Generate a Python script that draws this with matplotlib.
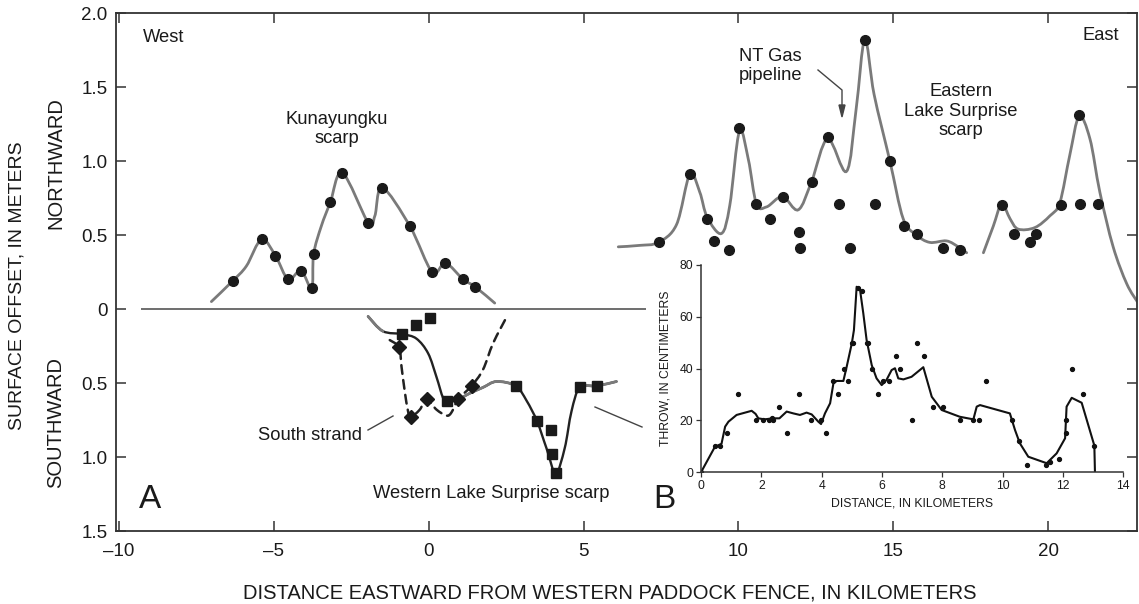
import numpy as np
import matplotlib
matplotlib.use("Agg")
import matplotlib.pyplot as plt
from matplotlib.path import Path
from matplotlib.patches import PathPatch, FancyArrow, Rectangle
from matplotlib.lines import Line2D

plt.rcParams['font.family'] = ['Liberation Sans', 'DejaVu Sans']

# ---------------------------------------------------------------- data
# Kunayungku scarp (northward offset, m) vs distance (km)
kun_x = [-6.33, -5.40, -4.95, -4.54, -4.13, -3.78, -3.72, -3.18, -2.79, -1.95,
         -1.50, -0.61, 0.11, 0.54, 1.11, 1.50]
kun_y = [0.19, 0.47, 0.36, 0.20, 0.26, 0.14, 0.37, 0.72, 0.92, 0.58,
         0.82, 0.56, 0.25, 0.31, 0.20, 0.15]
kun_curve_x = [-7.02, -6.33, -5.89, -5.40, -4.95, -4.54, -4.13, -3.78, -3.72, -3.47,
               -3.18, -2.79, -1.95, -1.74, -1.50, -0.61, 0.11, 0.54, 1.11, 1.50, 2.13]
kun_curve_y = [0.05, 0.19, 0.29, 0.47, 0.36, 0.20, 0.26, 0.14, 0.37, 0.56,
               0.72, 0.92, 0.58, 0.63, 0.82, 0.56, 0.25, 0.31, 0.20, 0.15, 0.04]

# Eastern Lake Surprise scarp (northward offset, m)
east_x = [7.44, 8.43, 9.00, 9.22, 9.69, 10.03, 10.56, 11.01, 11.44, 11.96, 11.98,
          12.36, 12.88, 13.24, 13.60, 14.08, 14.41, 14.89, 15.36, 15.76, 16.60, 17.14,
          18.52, 18.91, 19.41, 19.61, 20.41, 21.01, 21.03, 21.60]
east_y = [0.45, 0.91, 0.61, 0.46, 0.40, 1.22, 0.71, 0.61, 0.76, 0.52, 0.41,
          0.86, 1.16, 0.71, 0.41, 1.82, 0.71, 1.00, 0.56, 0.51, 0.41, 0.40,
          0.70, 0.51, 0.45, 0.51, 0.70, 1.31, 0.71, 0.71]
east_curve1_x = [6.12, 6.82, 7.41, 8.00, 8.43, 8.75, 8.99, 9.45, 9.72, 10.03, 10.32,
                 10.58, 10.91, 11.42, 11.93, 12.36, 12.88, 13.49, 13.80, 14.08, 14.38,
                 14.89, 15.32, 15.75, 16.18, 16.72, 17.10, 17.37]
east_curve1_y = [0.42, 0.43, 0.45, 0.57, 0.91, 0.79, 0.62, 0.51, 0.70, 1.20, 1.01,
                 0.71, 0.69, 0.76, 0.67, 0.86, 1.15, 0.93, 1.35, 1.82, 1.45,
                 1.00, 0.61, 0.50, 0.45, 0.46, 0.42, 0.38]
east_curve2_x = [17.91, 18.23, 18.50, 18.77, 19.03, 19.57, 20.06, 20.38, 20.70, 21.00,
                 21.35, 21.67, 22.10, 22.54, 22.91]
east_curve2_y = [0.38, 0.56, 0.71, 0.61, 0.54, 0.55, 0.63, 0.72, 1.04, 1.30,
                 1.15, 0.79, 0.42, 0.17, 0.04]

# Western Lake Surprise scarp (southward offset, m)
wls_x = [-0.85, -0.40, 0.03, 0.60, 2.81, 3.50, 3.94, 3.99, 4.10, 4.88, 5.43]
wls_s = [0.17, 0.11, 0.06, 0.62, 0.52, 0.76, 0.82, 0.98, 1.11, 0.53, 0.52]
wls_curve_x = [-1.96, -1.48, -0.85, -0.40, -0.02, 0.25, 0.46, 0.60, 0.95, 1.32, 1.75,
               2.19, 2.81, 3.16, 3.50, 3.80, 4.10, 4.39, 4.61, 4.88, 5.42, 6.06]
wls_curve_s = [0.05, 0.15, 0.17, 0.20, 0.30, 0.46, 0.60, 0.62, 0.61, 0.57, 0.53,
               0.49, 0.52, 0.62, 0.76, 0.94, 1.11, 0.94, 0.69, 0.53, 0.52, 0.49]
# stretches of that profile drawn in grey
wls_grey_spans = [(-2.1, -1.45), (0.95, 2.78), (4.92, 6.2)]

# South strand (southward offset, m)
ss_x = [-0.96, -0.58, -0.07, 0.95, 1.38]
ss_s = [0.26, 0.73, 0.61, 0.61, 0.52]
ss_curve_x = [-1.26, -0.96, -0.88, -0.78, -0.67, -0.58, -0.29, -0.07, 0.25, 0.57,
              0.73, 0.95, 1.38, 1.75, 2.08, 2.55]
ss_curve_s = [0.21, 0.26, 0.39, 0.55, 0.69, 0.73, 0.68, 0.61, 0.68, 0.72,
              0.70, 0.61, 0.52, 0.41, 0.23, 0.04]

# Eastern scarp throw profile (cm) vs distance (km)
throw_x = [0.0, 0.46, 0.63, 0.87, 1.22, 1.81, 2.07, 2.25, 2.34, 2.40, 2.59, 2.84,
           3.26, 3.65, 3.98, 4.13, 4.36, 4.55, 4.75, 4.88, 4.99, 5.05, 5.19, 5.33,
           5.49, 5.55, 5.68, 5.86, 6.04, 6.23, 6.45, 6.60, 6.98, 7.15, 7.40, 7.68,
           8.01, 8.58, 9.03, 9.21, 9.45, 10.30, 10.55, 10.82, 11.43, 11.57, 11.88,
           12.09, 12.10, 12.31, 12.67, 13.04]
throw_y = [0, 10, 10, 15, 30, 20, 20, 20, 21, 20, 25, 15,
           30, 20, 20, 15, 35, 30, 40, 35, 50, 50, 71, 70,
           50, 50, 40, 30, 35, 35, 45, 40, 20, 50, 45, 25,
           25, 20, 20, 20, 35, 20, 12, 3, 3, 4, 5,
           20, 15, 40, 30, 10]
throw_curve_x = [0.0, 0.46, 0.68, 0.80, 0.91, 1.18, 1.68, 1.81, 1.90, 2.10, 2.40,
                 2.60, 2.84, 3.06, 3.28, 3.50, 3.67, 3.89, 3.98, 4.11, 4.28, 4.39,
                 4.50, 4.72, 4.83, 5.00, 5.07, 5.16, 5.27, 5.38, 5.49, 5.66, 5.82,
                 5.99, 6.15, 6.32, 6.43, 6.54, 6.71, 6.98, 7.37, 7.65, 7.98, 8.58,
                 9.03, 9.14, 9.25, 10.24, 10.41, 10.57, 10.85, 11.46, 11.79, 12.07,
                 12.12, 12.29, 12.62, 13.04, 13.06]
throw_curve_y = [0, 9.8, 11, 17.6, 19.5, 22.1, 23.7, 22.5, 20.8, 20.4, 20.8,
                 20.8, 23.4, 22.7, 22.1, 23.0, 22.3, 19.5, 18.6, 22.7, 26.6, 34.3,
                 35.2, 35.2, 40.7, 49.7, 54.8, 71.5, 70.5, 61.3, 51.0, 41.3, 36.2,
                 33.6, 35.6, 39.4, 40.1, 36.2, 35.8, 36.8, 40.5, 29.1, 24.0, 21.4,
                 20.4, 25.3, 25.9, 22.7, 16.3, 11.2, 6.0, 3.5, 7.3, 13.1,
                 25.3, 28.7, 26.8, 10.3, 0.2]

x_ticks = [-10, -5, 0, 5, 10, 15, 20]
x_tick_labels = ['\u201310', '\u20135', '0', '5', '10', '15', '20']
y_ticks = [-1.5, -1.0, -0.5, 0, 0.5, 1.0, 1.5, 2.0]
y_tick_labels = ['1.5', '1.0', '0.5', '0', '0.5', '1.0', '1.5', '2.0']
inset_x_ticks = [0, 2, 4, 6, 8, 10, 12, 14]
inset_y_ticks = [0, 20, 40, 60, 80]
zero_line_start, zero_line_end = -9.3, 7.0

# ---------------------------------------------------------------- helpers
W, H = 1139, 604
GRAY = '#7a7a7a'
INK = '#1a1a1a'
LEAD = '#444444'


def fp(x, y):
    """Pixel position (from top-left) to figure fraction."""
    return (x / W, 1 - y / H)


def smooth_path(xs, ys):
    pts = np.column_stack([xs, ys]).astype(float)
    P = np.vstack([pts[0], pts, pts[-1]])
    verts = [pts[0]]
    codes = [Path.MOVETO]
    for i in range(1, len(P) - 2):
        p0, p1, p2, p3 = P[i - 1], P[i], P[i + 1], P[i + 2]
        verts += [p1 + (p2 - p0) / 6.0, p2 - (p3 - p1) / 6.0, p2]
        codes += [Path.CURVE4] * 3
    return Path(verts, codes)


def draw_curve(ax, xs, ys, **kw):
    patch = PathPatch(smooth_path(xs, ys), fill=False, capstyle='round', **kw)
    ax.add_patch(patch)
    return patch


# ---------------------------------------------------------------- figure
fig = plt.figure(figsize=(W / 100, H / 100), dpi=100)
fig.patch.set_facecolor('white')

ax = fig.add_axes([116 / W, (H - 531) / H, (1137 - 116) / W, (531 - 13) / H])
ax.set_xlim(-10.1, 22.87)
ax.set_ylim(-1.5, 2.0)
for sp in ax.spines.values():
    sp.set_color('#333333')
    sp.set_linewidth(1.3)
ax.set_xticks(x_ticks)
ax.set_xticklabels(x_tick_labels)
ax.set_yticks(y_ticks)
ax.set_yticklabels(y_tick_labels)
ax.tick_params(direction='in', length=7, width=1.1, color='#333333',
               top=True, right=True, labelsize=13.5, labelcolor=INK)
ax.tick_params(axis='x', pad=9)
ax.tick_params(axis='y', pad=6)

ax.hlines(0, zero_line_start, zero_line_end, color='#555555', lw=1.2)

# Kunayungku scarp
draw_curve(ax, kun_curve_x, kun_curve_y, edgecolor=GRAY, lw=2.0)
ax.plot(kun_x, kun_y, 'o', color=INK, ms=7)

# Eastern Lake Surprise scarp
draw_curve(ax, east_curve1_x, east_curve1_y, edgecolor=GRAY, lw=2.0)
draw_curve(ax, east_curve2_x, east_curve2_y, edgecolor=GRAY, lw=2.0)
ax.plot(east_x, east_y, 'o', color=INK, ms=7)

# Western Lake Surprise scarp (southward = negative); flat stretches in grey
wls_neg = [-v for v in wls_curve_s]
draw_curve(ax, wls_curve_x, wls_neg, edgecolor='#222222', lw=1.7)
for x0, x1 in wls_grey_spans:
    clip = Rectangle((x0, -1.5), x1 - x0, 1.5, transform=ax.transData)
    g = draw_curve(ax, wls_curve_x, wls_neg, edgecolor=GRAY, lw=2.0)
    g.set_clip_path(clip)

# South strand
ss_neg = [-v for v in ss_curve_s]
draw_curve(ax, ss_curve_x, ss_neg, edgecolor='#222222', lw=1.8,
           linestyle=(0, (3.5, 2.5)))
ax.plot(wls_x, [-v for v in wls_s], 's', color=INK, ms=6.5)
ax.plot(ss_x, [-v for v in ss_s], 'D', color=INK, ms=7)

# ---------------------------------------------------------------- labels
txt = dict(fontsize=13.2, color=INK)
fig.text(*fp(143, 37), 'West', ha='left', va='center', **txt)
fig.text(*fp(1119, 35), 'East', ha='right', va='center', **txt)
fig.text(*fp(337, 129), 'Kunayungku\nscarp', ha='center', va='center',
         linespacing=1.2, **txt)
fig.text(*fp(739, 66), 'NT Gas\npipeline', ha='left', va='center',
         linespacing=1.2, **txt)
fig.text(*fp(961, 111), 'Eastern\nLake Surprise\nscarp', ha='center', va='center',
         linespacing=1.2, **txt)
fig.text(*fp(258, 435), 'South strand', ha='left', va='center', **txt)
fig.text(*fp(373, 493), 'Western Lake Surprise scarp', ha='left', va='center', **txt)
fig.text(*fp(139, 500), 'A', ha='left', va='center', fontsize=24, color=INK)
fig.text(*fp(653, 500), 'B', ha='left', va='center', fontsize=24, color=INK)

# leader lines and pipeline arrow
fig.add_artist(Line2D(*zip(fp(368, 430), fp(393, 416)), transform=fig.transFigure,
                      color=LEAD, lw=1.0))
fig.add_artist(Line2D(*zip(fp(595, 407), fp(642, 427)), transform=fig.transFigure,
                      color=LEAD, lw=1.0))
fig.add_artist(Line2D(*zip(fp(818, 70), fp(842, 90), fp(842, 105)),
                      transform=fig.transFigure, color=LEAD, lw=1.0))
fig.add_artist(FancyArrow(*fp(842, 105), 0, -(12 / H), width=0.0001,
                          head_width=6 / W, head_length=12 / H,
                          length_includes_head=True, color=LEAD,
                          transform=fig.transFigure))

fig.text(*fp(610, 593), 'DISTANCE EASTWARD FROM WESTERN PADDOCK FENCE, IN KILOMETERS',
         ha='center', va='center', fontsize=14.5, color=INK)
fig.text(*fp(17, 286), 'SURFACE OFFSET, IN METERS', ha='center', va='center',
         rotation=90, fontsize=14, color=INK)
fig.text(*fp(56, 163), 'NORTHWARD', ha='center', va='center', rotation=90,
         fontsize=14.5, color=INK)
fig.text(*fp(56, 423), 'SOUTHWARD', ha='center', va='center', rotation=90,
         fontsize=14.5, color=INK)

# ---------------------------------------------------------------- inset
ins = fig.add_axes([701 / W, (H - 472.3) / H, 422.3 / W, 207.6 / H])
ins.set_facecolor('none')
ins.set_xlim(0, 14)
ins.set_ylim(0, 80)
ins.spines['top'].set_visible(False)
ins.spines['right'].set_visible(False)
for s in ('left', 'bottom'):
    ins.spines[s].set_color('#333333')
    ins.spines[s].set_linewidth(1.1)
ins.set_xticks(inset_x_ticks)
ins.set_yticks(inset_y_ticks)
ins.tick_params(direction='out', length=3.5, width=0.9, color='#333333',
                labelsize=8.8, labelcolor=INK, pad=2)
ins.plot(throw_curve_x, throw_curve_y, '-', color='#111111', lw=1.5)
ins.plot(throw_x, throw_y, 'o', color='#111111', ms=2.8)
ins.set_xlabel('DISTANCE, IN KILOMETERS', fontsize=8.8, color=INK, labelpad=4)
ins.set_ylabel('THROW, IN CENTIMETERS', fontsize=8.8, color=INK, labelpad=6)

fig.savefig('out.png', dpi=100, facecolor='white')
